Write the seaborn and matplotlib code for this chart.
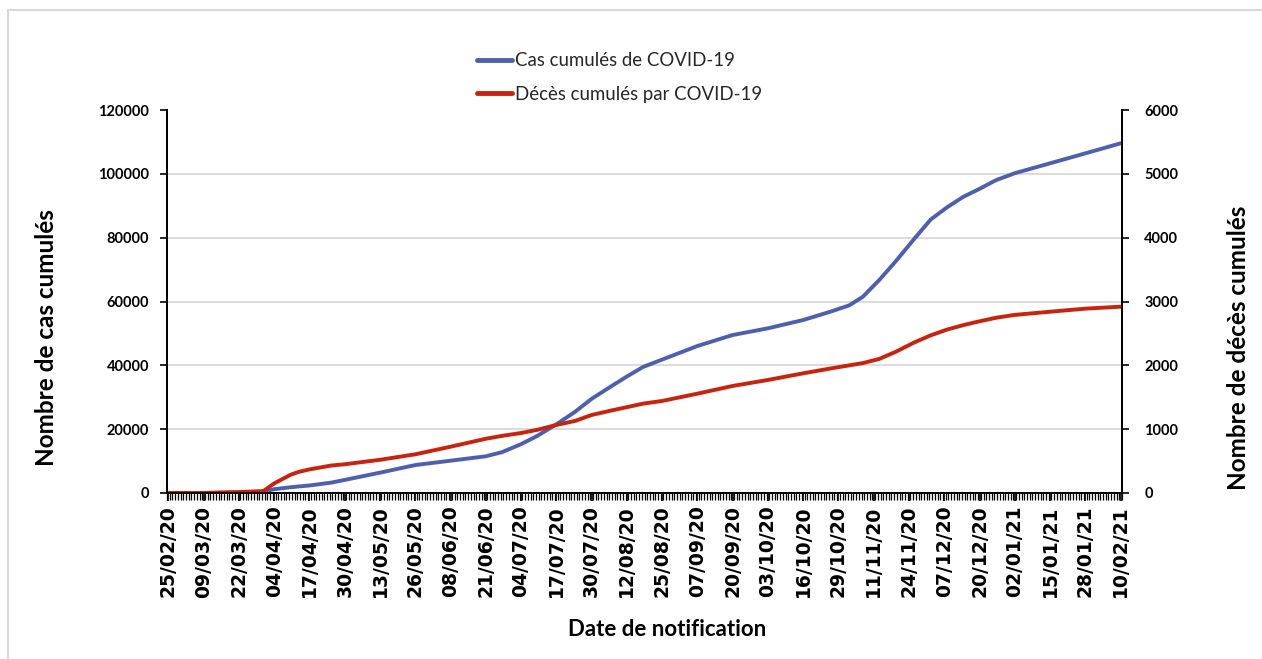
import matplotlib
matplotlib.use('Agg')
import matplotlib.pyplot as plt
import matplotlib.dates as mdates
import seaborn as sns
import pandas as pd
from matplotlib.patches import Rectangle
from matplotlib.lines import Line2D
from matplotlib.ticker import FixedLocator

# ---------------- data ----------------
dates = ["25/02/20", "09/03/20", "22/03/20", "31/03/20", "04/04/20", "10/04/20",
         "13/04/20", "17/04/20", "25/04/20", "30/04/20", "13/05/20", "26/05/20",
         "08/06/20", "21/06/20", "27/06/20", "04/07/20", "10/07/20", "17/07/20",
         "24/07/20", "30/07/20", "06/08/20", "12/08/20", "18/08/20", "25/08/20",
         "07/09/20", "20/09/20", "03/10/20", "16/10/20", "26/10/20", "02/11/20",
         "07/11/20", "13/11/20", "19/11/20", "26/11/20", "02/12/20", "08/12/20",
         "14/12/20", "20/12/20", "26/12/20", "02/01/21", "15/01/21", "28/01/21",
         "10/02/21"]
cases = [0, 20, 200, 400, 1200, 1800,
         2050, 2350, 3250, 4100, 6370, 8750,
         10120, 11500, 12800, 15300, 17900, 21500,
         25500, 29500, 33300, 36500, 39500, 41800,
         46060, 49500, 51600, 54200, 56800, 58800,
         61500, 66700, 72500, 79700, 85700, 89500,
         92800, 95300, 98000, 100200, 103300, 106420,
         109560]
deaths = [0, 0, 15, 30, 150, 285,
          330, 370, 430, 450, 520, 606,
          725, 850, 895, 940, 990, 1066,
          1130, 1222, 1290, 1345, 1400, 1442,
          1556, 1677, 1771, 1875, 1950, 2000,
          2035, 2100, 2210, 2360, 2470, 2560,
          2630, 2690, 2745, 2790, 2840, 2888,
          2919]
tick_labels = ["25/02/20", "09/03/20", "22/03/20", "04/04/20", "17/04/20", "30/04/20",
               "13/05/20", "26/05/20", "08/06/20", "21/06/20", "04/07/20", "17/07/20",
               "30/07/20", "12/08/20", "25/08/20", "07/09/20", "20/09/20", "03/10/20",
               "16/10/20", "29/10/20", "11/11/20", "24/11/20", "07/12/20", "20/12/20",
               "02/01/21", "15/01/21", "28/01/21", "10/02/21"]
case_ticks = [0, 20000, 40000, 60000, 80000, 100000, 120000]
death_ticks = [0, 1000, 2000, 3000, 4000, 5000, 6000]
series_names = ["Cas cumulés de COVID-19", "Décès cumulés par COVID-19"]

BLUE = "#4e5fad"
RED = "#c8230e"

sns.set_theme(style="white")
plt.rcParams['font.family'] = ['Lato', 'DejaVu Sans']

W, H = 1262, 659
fig = plt.figure(figsize=(W / 100, H / 100), dpi=100)
fig.patch.set_facecolor("white")

# outer chart border
fig.patches.append(Rectangle((8 / W, -0.05), 1.2, (H - 10) / H + 0.05,
                             transform=fig.transFigure, fill=False,
                             edgecolor="#d9d9d9", lw=1.5, zorder=0))

L, R, T, B = 167, 1122, 110, 493
ax = fig.add_axes([L / W, 1 - B / H, (R - L) / W, (B - T) / H])

df = pd.DataFrame({
    "date": pd.to_datetime(dates, format="%d/%m/%y"),
    "cases": cases,
    "deaths": deaths,
})

sns.lineplot(data=df, x="date", y="cases", ax=ax, color=BLUE, lw=2.8,
             legend=False)
ax2 = ax.twinx()
sns.lineplot(data=df, x="date", y="deaths", ax=ax2, color=RED, lw=2.8,
             legend=False)
for ln in ax.get_lines() + ax2.get_lines():
    ln.set_solid_joinstyle("round")
    ln.set_solid_capstyle("round")

start = df["date"].iloc[0] - pd.Timedelta(hours=12)
end = df["date"].iloc[-1] + pd.Timedelta(hours=12)
ax.set_xlim(start, end)
ax.set_ylim(0, 120000)
ax2.set_ylim(0, 6000)

# x ticks
tick_pos = pd.to_datetime(tick_labels, format="%d/%m/%y")
ax.set_xticks(tick_pos)
ax.set_xticklabels(tick_labels, rotation=90, fontsize=13.5, fontweight="bold",
                   family="DejaVu Sans")
minor = pd.date_range(start, end, freq="D")
ax.xaxis.set_minor_locator(FixedLocator(mdates.date2num(minor)))
ax.tick_params(axis="x", which="major", bottom=True, length=6, width=1.2,
               color="black", pad=3, labelcolor="black")
ax.tick_params(axis="x", which="minor", bottom=True, length=5, width=0.9,
               color="black")

# y ticks
ax.set_yticks(case_ticks)
ax.set_yticklabels([str(v) for v in case_ticks], fontsize=10.5, fontweight="bold")
ax.tick_params(axis="y", left=True, length=5, width=1.2, color="black", pad=8,
               labelcolor="black")
ax2.set_yticks(death_ticks)
ax2.set_yticklabels([str(v) for v in death_ticks], fontsize=10.5, fontweight="bold")
ax2.tick_params(axis="y", right=True, length=5, width=1.2, color="black", pad=11,
                labelcolor="black")

ax.set_xlabel("")
ax.set_ylabel("")
ax2.set_ylabel("")

# grid
ax.yaxis.grid(True, color="#d9d9d9", lw=1.3)
ax.xaxis.grid(False)
ax.set_axisbelow(True)
gl = ax.get_ygridlines()
gl[0].set_visible(False)
gl[-1].set_visible(False)

for a in (ax, ax2):
    a.spines["top"].set_visible(False)
    for s in ("left", "right", "bottom"):
        a.spines[s].set_color("black")
        a.spines[s].set_linewidth(1.3)

# axis titles
fig.text(667 / W, 1 - 630 / H, "Date de notification", ha="center", va="center",
         fontsize=16, fontweight="bold", color="black")
fig.text(47 / W, 1 - 338 / H, "Nombre de cas cumulés", ha="center", va="center",
         rotation=90, fontsize=17.5, fontweight="bold", color="black")
fig.text(1238 / W, 1 - 348 / H, "Nombre de décès cumulés", ha="center",
         va="center", rotation=90, fontsize=17.5, fontweight="bold", color="black")

# legend
handles = [Line2D([], [], color=BLUE, lw=3.5), Line2D([], [], color=RED, lw=3.5)]
fs = 13.4
fig.legend(handles, series_names, loc="center left",
           bbox_to_anchor=(477 / W, 1 - 77.5 / H), frameon=False, fontsize=fs,
           handlelength=35 / (fs * 100 / 72), handletextpad=0.15,
           labelspacing=0.88, borderpad=0, borderaxespad=0)

fig.savefig("out.png", dpi=100, facecolor="white")
